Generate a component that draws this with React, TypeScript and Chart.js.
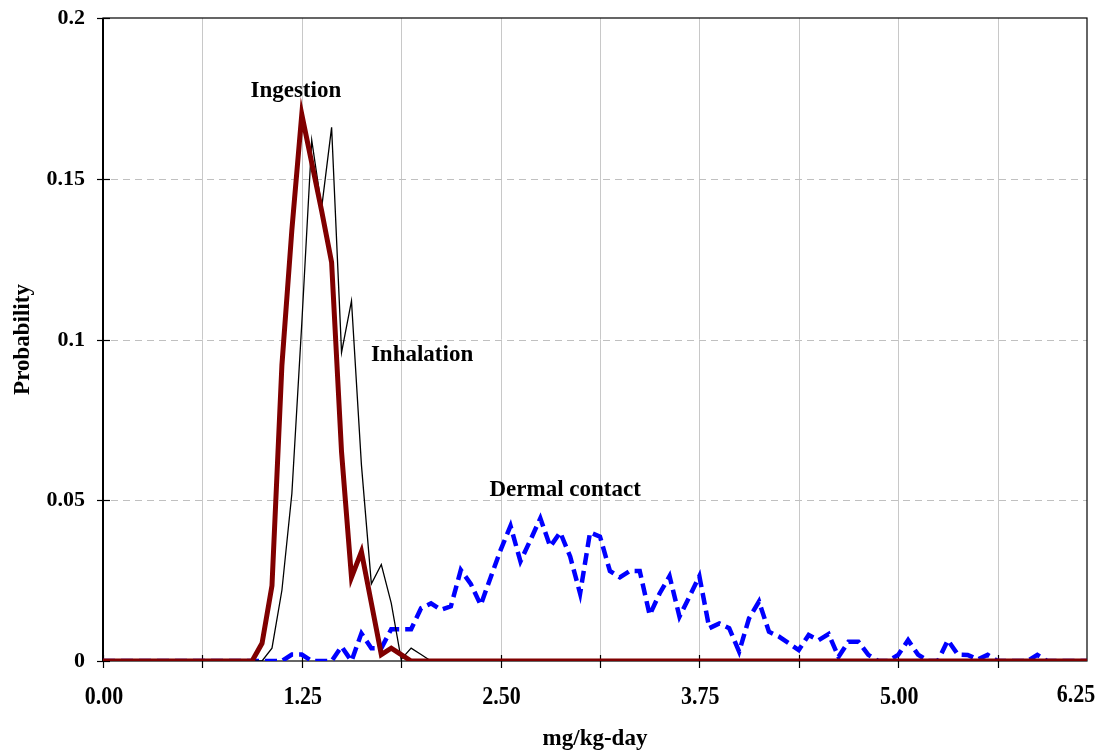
import React, { useEffect, useRef } from "react";
import { Chart, registerables } from "chart.js";

Chart.register(...registerables);

// mg/kg-day categories (step 0.0625)
const categories = [
  0, 0.0625, 0.125, 0.1875, 0.25, 0.3125, 0.375, 0.4375, 0.5, 0.5625,
  0.625, 0.6875, 0.75, 0.8125, 0.875, 0.9375, 1, 1.0625, 1.125, 1.1875,
  1.25, 1.3125, 1.375, 1.4375, 1.5, 1.5625, 1.625, 1.6875, 1.75, 1.8125,
  1.875, 1.9375, 2, 2.0625, 2.125, 2.1875, 2.25, 2.3125, 2.375, 2.4375,
  2.5, 2.5625, 2.625, 2.6875, 2.75, 2.8125, 2.875, 2.9375, 3, 3.0625,
  3.125, 3.1875, 3.25, 3.3125, 3.375, 3.4375, 3.5, 3.5625, 3.625, 3.6875,
  3.75, 3.8125, 3.875, 3.9375, 4, 4.0625, 4.125, 4.1875, 4.25, 4.3125,
  4.375, 4.4375, 4.5, 4.5625, 4.625, 4.6875, 4.75, 4.8125, 4.875, 4.9375,
  5, 5.0625, 5.125, 5.1875, 5.25, 5.3125, 5.375, 5.4375, 5.5, 5.5625,
  5.625, 5.6875, 5.75, 5.8125, 5.875, 5.9375, 6, 6.0625, 6.125, 6.1875,
];

const ingestion = [
  0, 0, 0, 0, 0, 0, 0, 0, 0, 0,
  0, 0, 0, 0, 0, 0, 0.0055, 0.0234, 0.092, 0.134,
  0.17, 0.155, 0.14, 0.124, 0.065, 0.026, 0.034, 0.018, 0.002, 0.004,
  0.002, 0, 0, 0, 0, 0, 0, 0, 0, 0,
  0, 0, 0, 0, 0, 0, 0, 0, 0, 0,
  0, 0, 0, 0, 0, 0, 0, 0, 0, 0,
  0, 0, 0, 0, 0, 0, 0, 0, 0, 0,
  0, 0, 0, 0, 0, 0, 0, 0, 0, 0,
  0, 0, 0, 0, 0, 0, 0, 0, 0, 0,
  0, 0, 0, 0, 0, 0, 0, 0, 0, 0,
];

const inhalation = [
  0, 0, 0, 0, 0, 0, 0, 0, 0, 0,
  0, 0, 0, 0, 0, 0, 0, 0.004, 0.022, 0.052,
  0.105, 0.162, 0.141, 0.166, 0.096, 0.112, 0.061, 0.024, 0.03, 0.018,
  0.0005, 0.004, 0.002, 0, 0, 0, 0, 0, 0, 0,
  0, 0, 0, 0, 0, 0, 0, 0, 0, 0,
  0, 0, 0, 0, 0, 0, 0, 0, 0, 0,
  0, 0, 0, 0, 0, 0, 0, 0, 0, 0,
  0, 0, 0, 0, 0, 0, 0, 0, 0, 0,
  0, 0, 0, 0, 0, 0, 0, 0, 0, 0,
  0, 0, 0, 0, 0, 0, 0, 0, 0, 0,
];

const dermal = [
  0, 0, 0, 0, 0, 0, 0, 0, 0, 0,
  0, 0, 0, 0, 0, 0, 0, 0, 0, 0.002,
  0.002, 0, 0, 0, 0.0045, 0, 0.0086, 0.004, 0.004, 0.0099,
  0.0099, 0.0099, 0.0164, 0.0179, 0.0159, 0.017, 0.0283, 0.024, 0.0174, 0.026,
  0.0345, 0.042, 0.031, 0.0376, 0.0444, 0.0356, 0.04, 0.0325, 0.021, 0.04,
  0.0387, 0.028, 0.026, 0.028, 0.028, 0.0143, 0.021, 0.0264, 0.0138, 0.02,
  0.0264, 0.0102, 0.0117, 0.0102, 0.0029, 0.0133, 0.0185, 0.0091, 0.0076, 0.0055,
  0.0034, 0.0081, 0.0065, 0.0084, 0.0013, 0.006, 0.006, 0.0019, 0, 0,
  0.0019, 0.0065, 0.002, 0, 0, 0.0065, 0.002, 0.0019, 0.0005, 0.0019,
  0, 0, 0, 0, 0.0019, 0, 0, 0, 0, 0,
];

const xTickLabels = ["0.00", "1.25", "2.50", "3.75", "5.00", "6.25"];
const yTickValues = [0, 0.05, 0.1, 0.15, 0.2];
const yTickLabels = ["0", "0.05", "0.1", "0.15", "0.2"];

// series annotations anchored in data coordinates (category index, probability)
const seriesNotes = [
  { text: "Ingestion", index: 19.4, value: 0.1754 },
  { text: "Inhalation", index: 32.1, value: 0.0934 },
  { text: "Dermal contact", index: 46.5, value: 0.0513 },
];

const FONT = '"Liberation Serif", "Times New Roman", serif';

const framePlugin = {
  id: "framePlugin",
  beforeDatasetsDraw(chart: any) {
    const { ctx, chartArea, scales } = chart;
    const { left, right, top, bottom } = chartArea;
    const x = scales.x;
    const y = scales.y;
    ctx.save();
    // vertical grid lines every 10 categories
    ctx.strokeStyle = "#c8c8c8";
    ctx.lineWidth = 1;
    for (let i = 10; i < categories.length; i += 10) {
      const px = Math.round(x.getPixelForValue(i)) + 0.5;
      ctx.beginPath();
      ctx.moveTo(px, top);
      ctx.lineTo(px, bottom);
      ctx.stroke();
    }
    // horizontal dashed grid lines
    ctx.strokeStyle = "#c0c0c0";
    ctx.setLineDash([7, 5]);
    for (let k = 1; k < yTickValues.length - 1; k++) {
      const py = Math.round(y.getPixelForValue(yTickValues[k])) + 0.5;
      ctx.beginPath();
      ctx.moveTo(left + 8, py);
      ctx.lineTo(right, py);
      ctx.stroke();
    }
    ctx.setLineDash([]);
    // plot border
    ctx.strokeStyle = "#000";
    ctx.lineWidth = 1.2;
    ctx.strokeRect(left, top, right - left, bottom - top);
    // left axis
    ctx.lineWidth = 2;
    ctx.beginPath();
    ctx.moveTo(left, top);
    ctx.lineTo(left, bottom);
    ctx.stroke();
    // y tick marks (cross)
    ctx.lineWidth = 1.2;
    for (const v of yTickValues) {
      const py = Math.round(y.getPixelForValue(v)) + 0.5;
      ctx.beginPath();
      ctx.moveTo(left - 6, py);
      ctx.lineTo(left + 7, py);
      ctx.stroke();
    }
    // x tick marks (cross)
    for (let i = 0; i < categories.length; i += 10) {
      const px = Math.round(x.getPixelForValue(i)) + 0.5;
      ctx.beginPath();
      ctx.moveTo(px, bottom - 6);
      ctx.lineTo(px, bottom + 7);
      ctx.stroke();
    }
    ctx.restore();
  },
  afterDraw(chart: any) {
    const { ctx, chartArea, scales } = chart;
    const { left, right, top, bottom } = chartArea;
    const x = scales.x;
    const y = scales.y;
    ctx.save();
    ctx.fillStyle = "#000";

    // y tick labels
    ctx.font = `bold 22px ${FONT}`;
    ctx.textAlign = "right";
    ctx.textBaseline = "middle";
    yTickValues.forEach((v, k) => {
      ctx.fillText(yTickLabels[k], left - 18, y.getPixelForValue(v) + 0.5);
    });

    // x tick labels (every 20 categories), slightly tall as in the source
    ctx.textAlign = "center";
    for (let k = 0; k < xTickLabels.length - 1; k++) {
      const px = x.getPixelForValue(k * 20);
      ctx.save();
      ctx.translate(px + 1, bottom + 37);
      ctx.scale(1, 1.12);
      ctx.fillText(xTickLabels[k], 0, 0);
      ctx.restore();
    }
    // last x label at the end of the axis
    ctx.save();
    ctx.translate(right - 11, bottom + 35);
    ctx.scale(1, 1.12);
    ctx.fillText(xTickLabels[xTickLabels.length - 1], 0, 0);
    ctx.restore();

    // series annotations
    ctx.font = `bold 23px ${FONT}`;
    ctx.textAlign = "center";
    ctx.textBaseline = "alphabetic";
    for (const n of seriesNotes) {
      ctx.fillText(n.text, x.getPixelForValue(n.index), y.getPixelForValue(n.value));
    }
    // axis titles
    ctx.fillText("mg/kg-day", (left + right) / 2, 745);
    ctx.save();
    ctx.translate(28.5, (top + bottom) / 2);
    ctx.rotate(-Math.PI / 2);
    ctx.fillText("Probability", 0, 0);
    ctx.restore();
    ctx.restore();
  },
};

export default function App() {
  const ref = useRef<HTMLCanvasElement | null>(null);
  useEffect(() => {
    if (!ref.current) return;
    const chart = new Chart(ref.current, {
      type: "line",
      data: {
        labels: categories.map((c) => String(c)),
        datasets: [
          {
            label: "Ingestion",
            data: ingestion,
            borderColor: "#800000",
            backgroundColor: "#800000",
            borderWidth: 5,
            pointRadius: 0,
            tension: 0,
            order: 0,
          },
          {
            label: "Inhalation",
            data: inhalation,
            borderColor: "#000000",
            backgroundColor: "#000000",
            borderWidth: 1.3,
            pointRadius: 0,
            tension: 0,
            order: 1,
          },
          {
            label: "Dermal contact",
            data: dermal,
            borderColor: "#0000ff",
            backgroundColor: "#0000ff",
            borderWidth: 4.5,
            borderDash: [12, 6],
            pointRadius: 0,
            tension: 0,
            order: 2,
          },
        ],
      },
      options: {
        animation: false,
        responsive: false,
        devicePixelRatio: 1,
        layout: { padding: { left: 0, right: 17, top: 18, bottom: 0 } },
        plugins: { legend: { display: false }, tooltip: { enabled: false } },
        scales: {
          x: {
            type: "category",
            offset: false,
            grid: { display: false },
            border: { display: false },
            afterFit: (s: any) => {
              s.height = 94;
              s.paddingLeft = 0;
              s.paddingRight = 0;
            },
            ticks: { display: false, autoSkip: false },
          },
          y: {
            type: "linear",
            min: 0,
            max: 0.2,
            grid: { display: false },
            border: { display: false },
            afterFit: (s: any) => {
              s.width = 103;
              s.paddingTop = 0;
              s.paddingBottom = 0;
            },
            afterBuildTicks: (s: any) => {
              s.ticks = yTickValues.map((v) => ({ value: v }));
            },
            ticks: { display: false },
          },
        },
      },
      plugins: [framePlugin],
    });
    return () => chart.destroy();
  }, []);
  return (
    <div
      style={{
        position: "absolute",
        left: 0,
        top: 0,
        width: 1104,
        height: 755,
        background: "#fff",
      }}
    >
      <canvas
        ref={ref}
        width={1104}
        height={755}
        style={{ display: "block", width: 1104, height: 755 }}
      />
    </div>
  );
}
